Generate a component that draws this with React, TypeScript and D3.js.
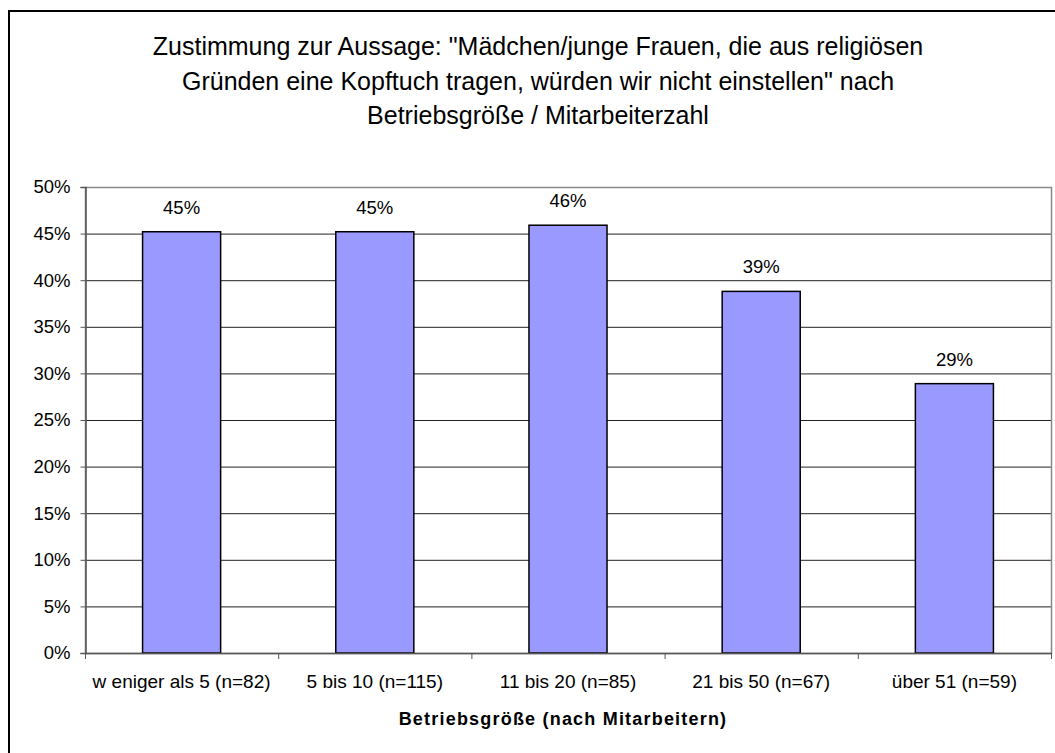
import React, { useEffect, useRef } from 'react';
import * as d3 from 'd3';

// data
const categories = [
  'w eniger als 5 (n=82)',
  '5 bis 10 (n=115)',
  '11 bis 20 (n=85)',
  '21 bis 50 (n=67)',
  'über 51 (n=59)',
];
const values = [45.2, 45.2, 45.9, 38.8, 28.9];
const valueLabels = ['45%', '45%', '46%', '39%', '29%'];
const yTicks = [0, 5, 10, 15, 20, 25, 30, 35, 40, 45, 50];
const titleLines = [
  'Zustimmung zur Aussage: "Mädchen/junge Frauen, die aus religiösen',
  'Gründen eine Kopftuch tragen, würden wir nicht einstellen" nach',
  'Betriebsgröße / Mitarbeiterzahl',
];
const xTitle = 'Betriebsgröße (nach Mitarbeitern)';

const W = 1055;
const H = 753;

function App() {
  const ref = useRef<SVGSVGElement>(null);

  useEffect(() => {
    const svg = d3.select(ref.current);
    svg.selectAll('*').remove();

    const font = 'Arial, "Liberation Sans", sans-serif';
    const left = 85, right = 1051, top = 187, bottom = 653;

    // outer chart border (right/bottom run off the picture)
    svg.append('rect')
      .attr('x', 9).attr('y', 11)
      .attr('width', 1080).attr('height', 780)
      .attr('fill', 'white')
      .attr('stroke', '#000')
      .attr('stroke-width', 2);

    // title
    svg.append('g')
      .selectAll('text')
      .data(titleLines).enter()
      .append('text')
      .attr('x', 538)
      .attr('y', (d, i) => 55 + i * 34.5)
      .attr('text-anchor', 'middle')
      .attr('font-family', font)
      .style('font-size', '25px')
      .attr('fill', '#000')
      .text(d => d);

    const xScale = d3.scaleBand<string>()
      .domain(categories)
      .range([left, right])
      .paddingInner(0.596)
      .paddingOuter(0.298);
    const yScale = d3.scaleLinear().domain([0, 50]).range([bottom, top]);
    const band = (right - left) / categories.length;

    // gridlines
    svg.append('g')
      .selectAll('line')
      .data(yTicks.filter(t => t > 0 && t < 50)).enter()
      .append('line')
      .attr('x1', left).attr('x2', right)
      .attr('y1', d => yScale(d) + 0.5).attr('y2', d => yScale(d) + 0.5)
      .attr('stroke', '#222')
      .attr('stroke-width', 1);

    // plot area border
    svg.append('rect')
      .attr('x', left + 0.5).attr('y', top + 0.5)
      .attr('width', right - left).attr('height', bottom - top)
      .attr('fill', 'none')
      .attr('stroke', '#888')
      .attr('stroke-width', 1.5);

    // bars
    svg.append('g')
      .selectAll('rect')
      .data(values).enter()
      .append('rect')
      .attr('x', (d, i) => xScale(categories[i])!)
      .attr('y', d => yScale(d))
      .attr('width', xScale.bandwidth())
      .attr('height', d => bottom - yScale(d))
      .attr('fill', '#9999ff')
      .attr('stroke', '#000')
      .attr('stroke-width', 1.5);

    // value labels
    svg.append('g')
      .selectAll('text')
      .data(values).enter()
      .append('text')
      .attr('x', (d, i) => xScale(categories[i])! + xScale.bandwidth() / 2)
      .attr('y', d => yScale(d) - 18)
      .attr('text-anchor', 'middle')
      .attr('font-family', font)
      .style('font-size', '18.5px')
      .text((d, i) => valueLabels[i]);

    // y axis
    const yAxis = svg.append('g')
      .attr('transform', `translate(${left + 0.5},0)`)
      .call(d3.axisLeft(yScale).tickValues(yTicks).tickSize(5).tickPadding(10)
        .tickFormat(d => `${d}%`));
    yAxis.select('.domain').attr('stroke', '#555').attr('stroke-width', 1.5);
    yAxis.selectAll('.tick line').attr('stroke', '#555');
    yAxis.selectAll('.tick text')
      .attr('font-family', font)
      .style('font-size', '18.5px')
      .attr('fill', '#000');

    // x axis line and ticks at category boundaries
    svg.append('line')
      .attr('x1', left).attr('x2', right + 1)
      .attr('y1', bottom + 0.5).attr('y2', bottom + 0.5)
      .attr('stroke', '#555').attr('stroke-width', 1.5);
    svg.append('g')
      .selectAll('line')
      .data(d3.range(categories.length + 1)).enter()
      .append('line')
      .attr('x1', i => left + i * band + 0.5).attr('x2', i => left + i * band + 0.5)
      .attr('y1', bottom).attr('y2', bottom + 6)
      .attr('stroke', '#555');

    svg.append('g')
      .selectAll('text')
      .data(categories).enter()
      .append('text')
      .attr('x', d => xScale(d)! + xScale.bandwidth() / 2)
      .attr('y', 688)
      .attr('text-anchor', 'middle')
      .attr('font-family', font)
      .style('font-size', '19px')
      .text(d => d);

    svg.append('text')
      .attr('x', 563)
      .attr('y', 725)
      .attr('text-anchor', 'middle')
      .attr('font-family', font)
      .attr('font-weight', 'bold')
      .style('font-size', '18px')
      .style('letter-spacing', '1.2px')
      .text(xTitle);
  }, []);

  return (
    <svg ref={ref} width={W} height={H}
      style={{ position: 'absolute', left: 0, top: 0, background: 'white' }} />
  );
}

export default App;
